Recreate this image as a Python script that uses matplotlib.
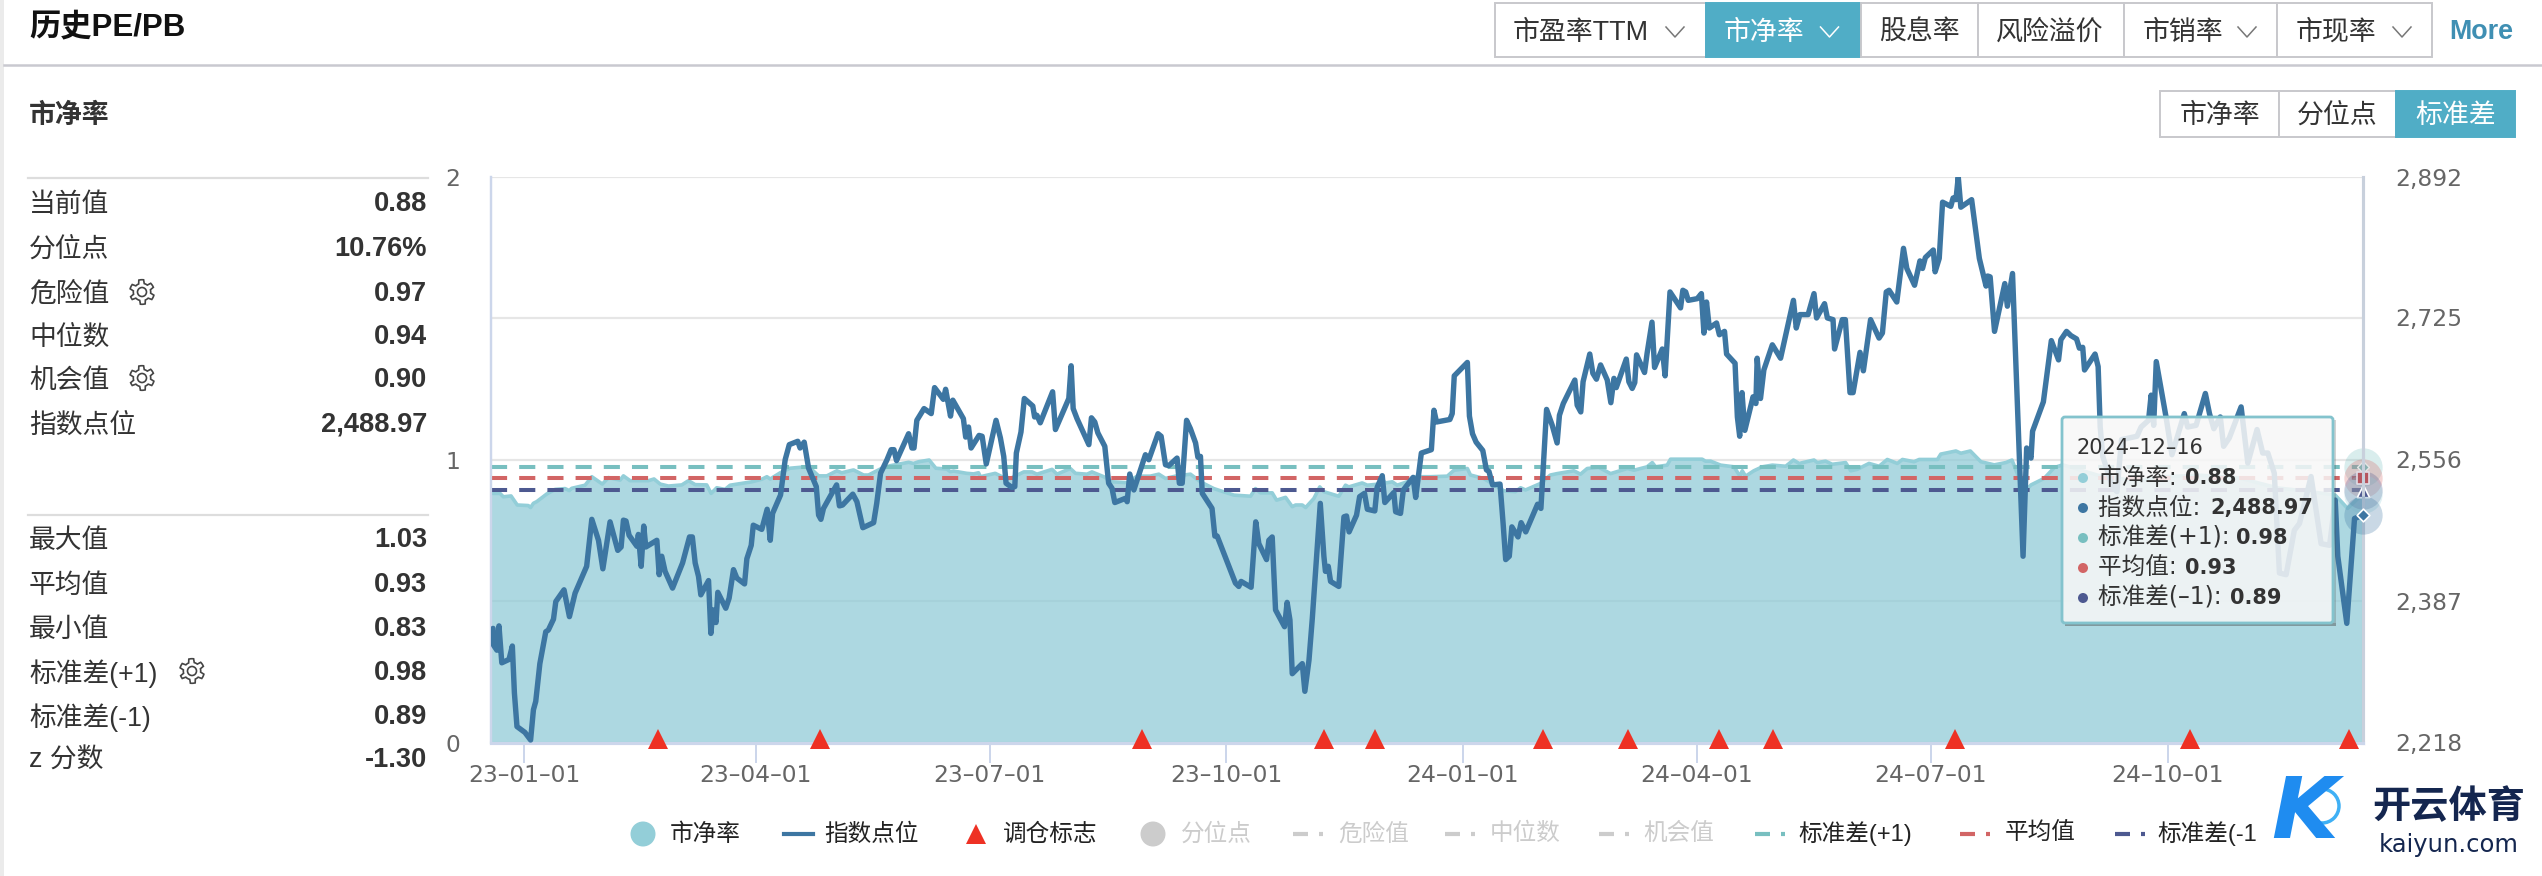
import numpy as np
import pandas as pd
import matplotlib
matplotlib.use('Agg')
import matplotlib.pyplot as plt
import matplotlib.dates as mdates
from matplotlib.patches import Rectangle, FancyBboxPatch, Circle, Ellipse, Polygon

plt.rcParams['font.family'] = ['Noto Sans CJK SC', 'DejaVu Sans']

start_date = '2022-12-19'
end_date = '2024-12-16'

index_trace = [
    (0.8,2354),(1,2334),(2.3,2328),(3.1,2357),(4.2,2313),(7,2317),(8.3,2333),(9.1,2277),(10.1,2237),(13.2,2230),
    (15.4,2221),(16.5,2257),(17.4,2267),(19,2312),(21.3,2350),(22.3,2352),(24.3,2365),(25.2,2386),(28.4,2400),(30.5,2368),
    (32.7,2396),(37.2,2428),(39.2,2484),(41.8,2459),(43.5,2425),(46.3,2481),(49.3,2447),(50.6,2451),(51.5,2483),(52.5,2482),
    (53.7,2465),(56.7,2452),(57.3,2466),(58.4,2428),(59.4,2476),(60.2,2451),(64.5,2459),(65.4,2418),(66.4,2440),(67.7,2422),
    (70.6,2402),(74.5,2432),(77.2,2463),(78.3,2463),(79.4,2432),(80.7,2416),(81.6,2394),(84.6,2411),(85.5,2348),(86.4,2376),
    (87.5,2361),(88.2,2397),(91.3,2378),(92.6,2390),(94.3,2424),(95.6,2414),(98.6,2407),(99.5,2437),(101.2,2453),(102,2477),
    (105.3,2472),(107.4,2496),(108.6,2459),(109.5,2491),(112.6,2513),(114.4,2555),(116,2573),(119.3,2577),(120.2,2569),(121.8,2576),
    (123.5,2545),(126.5,2523),(127.4,2489),(128.3,2484),(129.3,2497),(134.4,2525),(135.5,2500),(136.7,2501),(140.7,2514),(142.3,2505),
    (144.6,2474),(148.8,2480),(150,2503),(151.5,2539),(154,2555),(155.6,2567),(156.7,2567),(157.7,2554),(162.4,2586),(163.7,2569),
    (164.5,2569),(165.6,2602),(168.4,2616),(171.2,2610),(172.5,2641),(175.9,2627),(176.8,2639),(178.7,2607),(179.6,2626),(183.7,2604),
    (184.6,2582),(185.7,2594),(186.7,2569),(189.8,2584),(191,2583),(192.6,2550),(196.4,2602),(198.1,2581),(199.4,2559),(200.3,2527),
    (202.6,2522),(203.7,2523),(204.3,2563),(206.1,2588),(207.4,2628),(210.7,2619),(211.4,2606),(212.3,2608),(213.6,2599),(218.4,2636),
    (219.5,2591),(224.7,2628),(225.6,2667),(226.4,2616),(227.9,2604),(232.5,2573),(233.5,2605),(234.8,2600),(236,2587),(238.7,2571),
    (240.2,2527),(241.5,2521),(242.6,2504),(246.7,2509),(247.4,2505),(248.4,2538),(250,2519),(254.5,2561),(255.8,2555),(259.4,2586),
    (260.6,2583),(262.3,2549),(263.6,2548),(266.8,2557),(267.7,2527),(268.8,2527),(270.5,2602),(272,2592),(274,2575),(274.9,2558),
    (275.9,2559),(276.6,2515),(280.4,2497),(281.5,2464),(282.4,2464),(289.5,2408),(290.8,2404),(291.7,2410),(295.6,2403),(297.4,2481),
    (298.6,2455),(301.6,2436),(302.5,2459),(303.8,2463),(305.1,2376),(308.6,2356),(309.6,2385),(310.7,2364),(311.6,2300),(315.5,2312),
    (316.5,2279),(318.1,2316),(319.4,2366),(320.7,2424),(322.5,2503),(323.9,2440),(324.5,2422),(325.6,2428),(326.5,2410),(329.7,2404),
    (331.7,2487),(332.7,2488),(333.7,2469),(336.6,2489),(337.8,2511),(339.7,2515),(340.8,2496),(343.7,2494),(344.6,2522),(346.6,2536),
    (347.6,2504),(351.1,2516),(351.8,2493),(353.7,2491),(354.8,2519),(358.6,2534),(359.6,2510),(361.8,2563),(365.7,2567),(366.7,2614),
    (367.7,2600),(372.9,2603),(373.8,2610),(374.6,2655),(379.7,2671),(380.5,2607),(381.7,2586),(383.1,2576),(385.7,2566),(387.1,2543),
    (388.1,2541),(389.5,2525),(392.4,2526),(393.6,2479),(394.6,2436),(396,2440),(397,2475),(399.4,2463),(400.6,2480),(402.4,2469),
    (407,2502),(408.3,2497),(410.5,2615),(412.7,2596),(414.6,2575),(415.5,2608),(417,2622),(421.5,2650),(422.4,2620),(423.8,2612),
    (424.7,2648),(427.3,2681),(428.5,2658),(429.9,2651),(431.5,2668),(434.1,2650),(435.5,2623),(436.7,2652),(437.6,2641),(441.5,2675),
    (442.5,2648),(443.8,2640),(444.8,2647),(445.5,2680),(448.6,2659),(449.6,2682),(451.5,2719),(452.5,2665),(455.5,2687),(456.6,2655),
    (458.5,2755),(462.6,2736),(463.5,2757),(464.6,2755),(465.6,2745),(469.1,2747),(470.7,2753),(471.7,2706),(472.7,2743),(473.8,2712),
    (476.6,2718),(477.7,2704),(479.7,2708),(480.5,2681),(483.8,2670),(484.7,2606),(485.6,2583),(486.5,2635),(487.6,2590),(490.8,2630),
    (491.9,2622),(492.4,2676),(493.7,2628),(495,2662),(498.3,2692),(501.5,2676),(506.5,2745),(507.6,2712),(509,2728),(512.2,2728),
    (514.5,2753),(515.5,2724),(518.6,2741),(519.7,2724),(521.9,2722),(522.5,2687),(525.5,2722),(526.7,2722),(528.5,2635),(529.7,2635),
    (532.4,2683),(533.7,2661),(536.5,2722),(539.8,2700),(541.1,2706),(542.6,2755),(543.7,2757),(546.7,2743),(549.3,2807),(550.6,2783),
    (553.6,2763),(555.7,2792),(556.7,2783),(557.8,2796),(560.9,2805),(561.6,2779),(563.2,2795),(564.5,2862),(567.7,2857),(568.6,2867),
    (569.7,2865),(570.6,2892),(571.6,2856),(575.8,2865),(578.8,2795),(581.4,2762),(582,2774),(583,2773),(584.7,2708),(588.7,2765),
    (589.7,2738),(591.7,2777),(595.8,2440),(597.2,2569),(598.9,2557),(599.5,2589),(603.7,2624),(606.8,2697),(609.6,2674),(610.5,2698),
    (612.7,2708),(614.4,2703),(616.6,2699),(617.7,2688),(619,2689),(619.7,2662),(623.8,2681),(625,2666),(625.8,2594),(626.8,2559),
    (630.6,2523),(632.3,2517),(634.1,2579),(640.1,2583),(641.7,2594),(644.6,2602),(645.6,2632),(646.6,2596),(647.6,2672),(651.4,2606),
    (653.7,2561),(658.5,2610),(659.8,2594),(663.1,2596),(666.7,2634),(668.3,2610),(670,2592),(672.5,2606),(673.8,2571),(676,2581),
    (680.6,2618),(683.2,2551),(686.8,2591),(689,2563),(691,2563),(693.5,2539),(695.5,2420),(698.1,2418),(701.3,2471),(703.3,2479),
    (707.8,2535),(711.7,2455),(715,2453),(717.2,2507),(718.2,2440),(721.7,2360),(724.7,2485),(728,2488.97),
]

pb_trace = [
    (0,0.881),(3.5,0.881),(4.8,0.869),(7.8,0.872),(10.2,0.840),(14.5,0.838),(15.4,0.831),(16.5,0.846),(17.8,0.852),(21.7,0.879),
    (24.9,0.895),(28.8,0.898),(30.4,0.891),(31.4,0.899),(36.6,0.910),(39.2,0.940),(43.3,0.914),(45.7,0.937),(50.2,0.928),(51.5,0.943),
    (54.1,0.926),(61.2,0.926),(63.4,0.932),(65.8,0.914),(69,0.907),(74.2,0.911),(76.8,0.926),(79.4,0.912),(83.9,0.911),(85.6,0.881),
    (87.8,0.901),(91,0.895),(93,0.910),(101.4,0.922),(105.3,0.931),(107.3,0.940),(108.6,0.932),(112.5,0.954),(116.3,0.970),(123.5,0.976),
    (127.4,0.943),(130.6,0.943),(134.5,0.961),(136.4,0.954),(141,0.964),(144.9,0.946),(146.8,0.946),(152,0.970),(155.3,0.979),(162.4,0.991),
    (164.3,0.987),(166.3,0.993),(170.4,0.999),(173,0.970),(177.3,0.967),(178.6,0.958),(179.9,0.960),(185,0.952),(187.7,0.950),(189.6,0.954),
    (190.3,0.940),(196.1,0.952),(199.4,0.937),(202,0.934),(207.2,0.957),(210.4,0.957),(212.3,0.949),(218.2,0.966),(220.1,0.949),(225.3,0.969),
    (227.3,0.952),(231.8,0.949),(233.7,0.957),(238.3,0.940),(241.5,0.922),(247.4,0.919),(251.3,0.942),(256.4,0.942),(259.7,0.949),(262.3,0.934),
    (266.2,0.942),(272,0.949),(275.9,0.922),(281.1,0.898),(288.9,0.875),(295.4,0.871),(297.3,0.898),(299.2,0.883),(303.8,0.883),(305.5,0.857),
    (309,0.867),(311.6,0.834),(312.9,0.840),(315.5,0.840),(316.8,0.831),(320,0.863),(322.3,0.904),(323.9,0.887),(329.7,0.871),(332.3,0.910),
    (333.6,0.904),(338.8,0.918),(340.8,0.910),(345.3,0.914),(346.6,0.928),(347.9,0.918),(350.5,0.922),(352.4,0.910),(356.3,0.922),(358.9,0.940),
    (365.4,0.940),(371.9,0.942),(374.5,0.963),(379.7,0.969),(380.9,0.946),(386,0.934),(393.9,0.890),(398.4,0.887),(400.4,0.901),(402.3,0.893),
    (408.1,0.916),(412,0.946),(414.6,0.951),(421.1,0.961),(423.7,0.949),(426.3,0.969),(430.8,0.973),(435.4,0.951),(441.9,0.969),(444.5,0.963),
    (449.6,0.975),(451.6,0.990),(452.9,0.975),(457.4,0.981),(458.7,1.002),(471,1.002),(472.3,0.995),(474.3,0.995),(478.2,0.981),(483.4,0.975),
    (485.7,0.942),(486.6,0.961),(487.9,0.942),(491.1,0.961),(494.4,0.975),(498.3,0.981),(503.5,0.977),(506.5,0.999),(508.7,0.987),(514.5,0.999),
    (515.8,0.990),(519,0.995),(521.6,0.984),(526.8,0.990),(528.8,0.961),(531.3,0.966),(535.9,0.987),(539.8,0.977),(543,1.001),(546.9,0.987),
    (548.9,1.001),(553.4,0.993),(555.4,1.001),(562.5,1.001),(563.8,1.020),(569.7,1.031),(571.6,1.023),(575.3,1.031),(579.4,0.993),(584.6,0.982),
    (589.1,0.990),(591.5,0.999),(593,0.964),(596.3,0.887),(598.9,0.911),(604,0.934),(607.9,0.972),(611.2,0.982),(625,0.945),(640,0.925),
    (650,0.940),(665,0.945),(680,0.935),(695,0.900),(705,0.890),(717.2,0.875),(722,0.828),(728,0.88),
]

rebalance_days = [64.9, 128, 253.3, 324.1, 343.6, 409, 442.3, 477.4, 498.4, 569.3, 660.9, 722.5]
std_plus = 0.975
pb_mean = 0.934
std_minus = 0.893
current_index = 2488.97
current_pb = 0.88

pb_ticks = [0, 1, 2]
grid_ticks = [0, 0.5, 1, 1.5, 2]
index_ticks = [2218, 2387, 2556, 2725, 2892]
date_ticks = ['2023-01-01', '2023-04-01', '2023-07-01', '2023-10-01', '2024-01-01', '2024-04-01', '2024-07-01', '2024-10-01']

stats_top = [('当前值', '0.88'), ('分位点', '10.76%'), ('危险值', '0.97'), ('中位数', '0.94'), ('机会值', '0.90'), ('指数点位', '2,488.97')]
stats_bottom = [('最大值', '1.03'), ('平均值', '0.93'), ('最小值', '0.83'), ('标准差(+1)', '0.98'), ('标准差(-1)', '0.89'), ('z 分数', '-1.30')]

C_AREA = '#8ecad6'
C_PB = '#93ced8'
C_INDEX = '#3d76a2'
C_PLUS = '#78bfc0'
C_MEAN = '#d26565'
C_MINUS = '#4d5990'
C_RED = '#ee3124'
C_AXIS = '#ccd6eb'
C_GRID = '#e6e6e6'
C_BTN = '#50adc6'
C_TEXT = '#333333'
C_OFF = '#cccccc'
LATIN = ['Liberation Sans', 'Noto Sans CJK SC']
TICKF = ['DejaVu Sans', 'Noto Sans CJK SC']

W, H = 2542, 876
fig = plt.figure(figsize=(W / 100, H / 100), dpi=100, facecolor='white')

left, right, top, bottom = 491, 2363, 177, 742.5
ax = fig.add_axes([left / W, 1 - bottom / H, (right - left) / W, (bottom - top) / H])
ax2 = ax.twinx()
ax.set_zorder(1)
ax2.set_zorder(2)
ax.patch.set_facecolor('white')
ax2.patch.set_visible(False)


def to_dates(days):
    return pd.Timestamp(start_date) + pd.to_timedelta(np.array(days), unit='D')


index_days, index_vals = zip(*index_trace)
pb_days, pb_vals = zip(*pb_trace)
pb_x = to_dates(pb_days)
end_x = pd.Timestamp(end_date)

# 市净率 area and the three band lines
ax.fill_between(pb_x, 0, pb_vals, color=C_AREA, alpha=0.72, lw=0, zorder=2)
ax.plot(pb_x, pb_vals, color=C_PB, lw=2.6, zorder=3)
for val, col in [(std_plus, C_PLUS), (pb_mean, C_MEAN), (std_minus, C_MINUS)]:
    ax.plot([pb_x[0], end_x], [val, val], color=col, lw=2.9, ls=(0, (4, 3)), dash_capstyle='butt', zorder=4)

# 指数点位
ax2.plot(to_dates(index_days), index_vals, color=C_INDEX, lw=3.9, solid_joinstyle='round', solid_capstyle='round', zorder=5)
ax2.plot(to_dates(rebalance_days), [2218 + 4] * len(rebalance_days), ls='none', marker='^', ms=14.4,
         color=C_RED, mew=0, clip_on=False, zorder=6)

ax.set_xlim(pd.Timestamp(start_date), end_x)
ax.set_ylim(0, 2)
ax2.set_ylim(2218, 2892)
ax.set_yticks(grid_ticks)
ax.set_yticklabels(['0', '', '1', '', '2'], fontsize=16.8, color='#666666', family=TICKF)
ax2.set_yticks(index_ticks)
ax2.set_yticklabels([f'{v:,}' for v in index_ticks], fontsize=16.8, color='#666666', family=TICKF)
ax.tick_params(axis='y', length=0, pad=22)
ax2.tick_params(axis='y', length=0, pad=23)
ax.grid(axis='y', color=C_GRID, lw=1.6, zorder=1)
ax.set_axisbelow(True)
ax.set_xticks(pd.to_datetime(date_ticks))
ax.xaxis.set_major_formatter(mdates.DateFormatter('%y–%m–%d'))
ax.tick_params(axis='x', length=14.4, width=1.44, color=C_AXIS, labelcolor='#666666', labelsize=16.8, pad=1)
for t in ax.get_xticklabels():
    t.set_family(TICKF)
for a in (ax, ax2):
    a.spines['top'].set_visible(False)
    a.spines['left'].set_color(C_AXIS)
    a.spines['left'].set_linewidth(1.6)
    a.spines['bottom'].set_color(C_AXIS)
    a.spines['bottom'].set_linewidth(2.2)
    a.spines['right'].set_color('#c8d0dc')
    a.spines['right'].set_linewidth(2.2)

# end of series highlights under the cursor
for val, col in [(std_plus, C_PLUS), (pb_mean, C_MEAN), (std_minus, C_MINUS), (current_pb, C_PB)]:
    ax.scatter([end_x], [val], s=760, color=col, alpha=0.28, lw=0, clip_on=False, zorder=7)
ax2.scatter([end_x], [current_index], s=760, color=C_INDEX, alpha=0.28, lw=0, clip_on=False, zorder=7)
ax.scatter([end_x], [std_plus], s=36, marker='D', color='#8ab0b0', edgecolor='#e6e6e6', lw=1, clip_on=False, zorder=8)
ax.scatter([end_x], [pb_mean], s=70, marker='s', color='#b5565f', edgecolor='#e3dde6', lw=1.2, clip_on=False, zorder=8)
ax.scatter([end_x], [std_minus - 0.005], s=80, marker='^', color=C_MINUS, edgecolor='white', lw=1.2, clip_on=False, zorder=9)
ax2.scatter([end_x], [current_index], s=42, marker='D', color=C_INDEX, edgecolor='white', lw=1.2, clip_on=False, zorder=8)

# page furniture, in pixel coordinates of the screenshot
ov = fig.add_axes([0, 0, 1, 1], zorder=5)
ov.set_xlim(0, W)
ov.set_ylim(H, 0)
ov.axis('off')
ov.patch.set_visible(False)

ov.add_patch(Rectangle((0, 0), 4, H, color='#ebebeb', lw=0))
ov.plot([4, W], [65, 65], color='#c9c9d0', lw=1.8)
ov.text(29, 27, '历史PE/PB', fontsize=22.5, fontweight='bold', color='#111111', va='center', family=LATIN)
ov.text(29, 115, '市净率', fontsize=19.4, fontweight='bold', color=C_TEXT, va='center')

for y in (178, 515):
    ov.plot([28, 428], [y, y], color='#dddddd', lw=1.6)
rows_top = [202, 247, 292, 335, 378, 423]
rows_bottom = [538, 583, 627, 671, 715, 758]
for (lab, val), y in zip(stats_top + stats_bottom, rows_top + rows_bottom):
    ov.text(29, y + 3, lab, fontsize=19.3, color=C_TEXT, va='center', family=LATIN)
    ov.text(427, y + 2, val, fontsize=19.6, fontweight='bold', color=C_TEXT, va='center', ha='right', family=LATIN)


def gear(x, y):
    ang = np.linspace(0, 2 * np.pi, 49)
    r = 10.5 + 1.8 * np.sign(np.cos(6 * ang))
    ov.add_patch(Polygon(np.c_[x + r * np.sin(ang), y + r * np.cos(ang)], closed=True, fill=False, ec='#444444', lw=1.2))
    ov.add_patch(Circle((x, y), 4.5, fill=False, ec='#444444', lw=1.2))


gear(142, 292)
gear(142, 378)
gear(192, 671)


def chevron(x, y, col):
    ov.plot([x - 9, x, x + 9], [y - 5, y + 5, y - 5], color=col, lw=1.1)


# selector buttons
edges = [1495, 1705.6, 1861, 1978, 2124, 2277, 2432]
for i in range(len(edges) - 1):
    on = i == 1
    ov.add_patch(Rectangle((edges[i], 3), edges[i + 1] - edges[i], 54, fc=C_BTN if on else 'white', ec=C_BTN if on else '#c8c8cc', lw=1.4))
for x, lab, col, ha in [(1512.7, '市盈率TTM', C_TEXT, 'left'), (1723.7, '市净率', 'white', 'left'), (1919.7, '股息率', C_TEXT, 'center'),
                        (2050, '风险溢价', C_TEXT, 'center'), (2143, '市销率', C_TEXT, 'left'), (2296, '市现率', C_TEXT, 'left')]:
    ov.text(x, 33, lab, fontsize=19.4, color=col, ha=ha, va='center', family=LATIN)
chevron(1675, 32, '#777777')
chevron(1829.5, 32, 'white')
chevron(2247, 32, '#777777')
chevron(2402, 32, '#777777')
ov.text(2449, 32, 'More', fontsize=19.4, fontweight='bold', color='#3f8fb3', va='center', family=LATIN)

edges2 = [2160, 2279, 2396, 2515]
for i, lab in enumerate(['市净率', '分位点', '标准差']):
    on = i == 2
    ov.add_patch(Rectangle((edges2[i], 91), edges2[i + 1] - edges2[i], 46, fc=C_BTN if on else 'white', ec=C_BTN if on else '#c8c8cc', lw=1.4))
    ov.text((edges2[i] + edges2[i + 1]) / 2, 115, lab, fontsize=19.4, color='white' if on else C_TEXT, ha='center', va='center')

# legend
ly = 834
ov.add_patch(Ellipse((643, ly), 25, 25, color=C_PB, lw=0))
ov.text(670, ly, '市净率', fontsize=17, color='#222222', va='center')
ov.plot([784, 813], [ly, ly], color=C_INDEX, lw=3)
ov.text(824, ly, '指数点位', fontsize=17, color='#222222', va='center')
ov.plot([976], [ly], marker='^', ms=15, color=C_RED, mew=0)
ov.text(1003, ly, '调仓标志', fontsize=17, color='#222222', va='center')
ov.add_patch(Ellipse((1153, ly), 25, 25, color=C_OFF, lw=0))
ov.text(1181, ly, '分位点', fontsize=17, color=C_OFF, va='center')
legend_dashes = [(1293, '危险值', 1338, C_OFF, C_OFF), (1445, '中位数', 1490, C_OFF, C_OFF), (1599, '机会值', 1643, C_OFF, C_OFF),
                 (1755, '标准差(+1)', 1798, C_PLUS, '#222222'), (1960, '平均值', 2005, C_MEAN, '#222222'), (2115, '标准差(-1', 2157, C_MINUS, '#222222')]
for x0, lab, tx, col, tcol in legend_dashes:
    ov.plot([x0, x0 + 15], [ly, ly], color=col, lw=3, solid_capstyle='butt')
    ov.plot([x0 + 26, x0 + 30], [ly, ly], color=col, lw=3, solid_capstyle='butt')
    ov.text(tx, ly, lab, fontsize=17, color=tcol, va='center', family=LATIN)

# tooltip, the shadow only shows along the bottom and right edges
tx0, ty0, tw, th = 2062, 417, 271, 206
ov.add_patch(Rectangle((tx0 + 3, ty0 + th), tw, 3, fc=(0.3, 0.3, 0.3, 0.45), ec='none'))
ov.add_patch(Rectangle((tx0 + tw, ty0 + 3), 3, th - 3, fc=(0.3, 0.3, 0.3, 0.25), ec='none'))
ov.add_patch(FancyBboxPatch((tx0, ty0), tw, th, boxstyle='round,pad=0,rounding_size=3', fc=(0.97, 0.97, 0.97, 0.86), ec='#83c3cd', lw=2))
ov.text(2077, 448, '2024–12–16', fontsize=15, color=C_TEXT, va='center', family=TICKF)
tip_rows = [('市净率: ', '0.88', 2185, C_PB, 478), ('指数点位: ', '2,488.97', 2210, C_INDEX, 508), ('标准差(+1): ', '0.98', 2236, C_PLUS, 538),
            ('平均值: ', '0.93', 2185, C_MEAN, 568), ('标准差(–1): ', '0.89', 2230, C_MINUS, 598)]
for lab, val, vx, col, y in tip_rows:
    ov.add_patch(Circle((2083, y), 5, fc=col, lw=0))
    ov.text(2098, y, lab, fontsize=17, color=C_TEXT, va='center', family=TICKF)
    ov.text(vx, y, val, fontsize=15, fontweight='bold', color=C_TEXT, va='center', family=TICKF)

# watermark
ov.text(2305, 815, 'K', fontsize=62, fontweight='bold', style='italic', color='#1f8cf0', ha='center', va='center', family='DejaVu Sans')
ov.add_patch(Circle((2322, 806), 17, fc='none', ec='#3fb0f5', lw=2.5))
ov.text(2449, 807, '开云体育', fontsize=27.5, fontweight='bold', color='#14264f', ha='center', va='center')
ov.text(2449, 845, 'kaiyun.com', fontsize=17.5, color='#14264f', ha='center', va='center', family='DejaVu Sans')

fig.savefig('out.png', dpi=100)
